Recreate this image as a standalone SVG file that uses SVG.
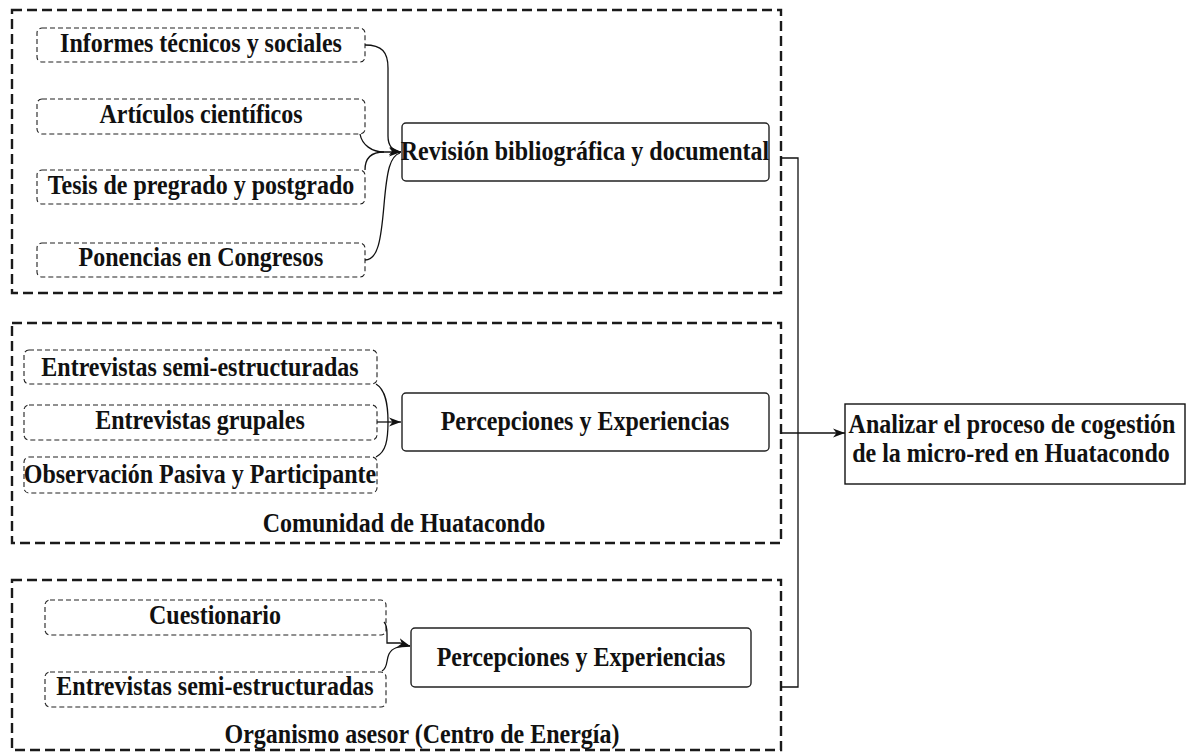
<svg xmlns="http://www.w3.org/2000/svg" width="1188" height="755" viewBox="0 0 1188 755">
  <style>
    .grp { fill: none; stroke: #1a1a1a; stroke-width: 2.4; stroke-dasharray: 10 5; }
    .src { fill: #fff; stroke: #222; stroke-width: 1.1; stroke-dasharray: 5 3; }
    .proc { fill: #fff; stroke: #222; stroke-width: 1.4; }
    .goal { fill: #fff; stroke: #111; stroke-width: 1.4; }
    .lbl { font-family: "Liberation Serif", "Times New Roman", serif; font-weight: bold; font-size: 24px; fill: #111; text-anchor: middle; }
    .wire { fill: none; stroke: #111; stroke-width: 1.3; }
  </style>
  <defs>
    <marker id="arrow" markerWidth="13" markerHeight="11" refX="12" refY="5.5" orient="auto" markerUnits="userSpaceOnUse">
      <path d="M0,1 L12,5.5 L0,10 L3.5,5.5 z" fill="#111"/>
    </marker>
  </defs>
  <rect width="1188" height="755" fill="#fff"/>

  <!-- grouping frames; labels are stretched vertically (matrix) to the tall lettering -->
  <g id="frame-literature">
    <rect class="grp" x="12" y="10" width="769" height="283"/>
  </g>
  <g id="frame-community">
    <rect class="grp" x="12" y="323" width="769" height="220"/>
    <text class="lbl" transform="matrix(1 0 0 1.13 404 532)">Comunidad de Huatacondo</text>
  </g>
  <g id="frame-advisor">
    <rect class="grp" x="12" y="580" width="769" height="170"/>
    <text class="lbl" transform="matrix(1 0 0 1.13 422 743)">Organismo asesor (Centro de Energía)</text>
  </g>

  <!-- sources: literature -->
  <g id="src-informes">
    <rect class="src" x="37" y="28" width="328" height="34" rx="5"/>
    <text class="lbl" transform="matrix(1 0 0 1.13 201 52)">Informes técnicos y sociales</text>
  </g>
  <g id="src-articulos">
    <rect class="src" x="37" y="99" width="328" height="35" rx="5"/>
    <text class="lbl" transform="matrix(1 0 0 1.13 201 123)">Artículos científicos</text>
  </g>
  <g id="src-tesis">
    <rect class="src" x="37" y="170" width="328" height="34" rx="5"/>
    <text class="lbl" transform="matrix(1 0 0 1.13 201 194)">Tesis de pregrado y postgrado</text>
  </g>
  <g id="src-ponencias">
    <rect class="src" x="37" y="243" width="328" height="34" rx="5"/>
    <text class="lbl" transform="matrix(1 0 0 1.13 201 266)">Ponencias en Congresos</text>
  </g>

  <!-- sources: community -->
  <g id="src-entrevistas-semi-1">
    <rect class="src" x="24" y="350" width="353" height="34" rx="5"/>
    <text class="lbl" transform="matrix(1 0 0 1.13 200 376)">Entrevistas semi-estructuradas</text>
  </g>
  <g id="src-entrevistas-grupales">
    <rect class="src" x="24" y="405" width="353" height="35" rx="5"/>
    <text class="lbl" transform="matrix(1 0 0 1.13 200 429)">Entrevistas grupales</text>
  </g>
  <g id="src-observacion">
    <rect class="src" x="24" y="457" width="353" height="36" rx="5"/>
    <text class="lbl" transform="matrix(1 0 0 1.13 200 483)">Observación Pasiva y Participante</text>
  </g>

  <!-- sources: advisor -->
  <g id="src-cuestionario">
    <rect class="src" x="45" y="600" width="341" height="35" rx="5"/>
    <text class="lbl" transform="matrix(1 0 0 1.13 215 624)">Cuestionario</text>
  </g>
  <g id="src-entrevistas-semi-2">
    <rect class="src" x="45" y="672" width="341" height="35" rx="5"/>
    <text class="lbl" transform="matrix(1 0 0 1.13 215 695)">Entrevistas semi-estructuradas</text>
  </g>

  <!-- process boxes -->
  <g id="proc-revision">
    <rect class="proc" x="402" y="123" width="367" height="58" rx="4"/>
    <text class="lbl" transform="matrix(1 0 0 1.13 585 160)">Revisión bibliográfica y documental</text>
  </g>
  <g id="proc-percepciones-1">
    <rect class="proc" x="402" y="393" width="367" height="58" rx="4"/>
    <text class="lbl" transform="matrix(1 0 0 1.13 585 430)">Percepciones y Experiencias</text>
  </g>
  <g id="proc-percepciones-2">
    <rect class="proc" x="411" y="628" width="340" height="59" rx="4"/>
    <text class="lbl" transform="matrix(1 0 0 1.13 581 666)">Percepciones y Experiencias</text>
  </g>

  <!-- goal -->
  <g id="goal">
    <rect class="goal" x="845" y="404" width="340" height="80"/>
    <text class="lbl" transform="matrix(1 0 0 1.13 1012 433)">Analizar el proceso de cogestión</text>
    <text class="lbl" transform="matrix(1 0 0 1.13 1011 462)">de la micro-red en Huatacondo</text>
  </g>

  <!-- connectors -->
  <g id="connectors">
    <!-- literature into review -->
    <path class="wire" d="M365,45 C382,45 388,52 388,68 L388,136 C388,146 392,151 401,152" marker-end="url(#arrow)"/>
    <path class="wire" d="M360,134 C362,145 372,152 384,152 L401,152" marker-end="url(#arrow)"/>
    <path class="wire" d="M365,170 C365,160 370,152 384,152"/>
    <path class="wire" d="M365,260 C378,260 381,240 384,205 C387,170 390,156 400,153"/>
    <!-- community into perceptions -->
    <path class="wire" d="M376,384 C386,390 388,405 388,422 C388,440 386,452 376,457"/>
    <path class="wire" d="M377,422 L401,422" marker-end="url(#arrow)"/>
    <!-- advisor into perceptions -->
    <path class="wire" d="M384,622 C386,624 387,628 387,634 L387,643 L400,643 L410,646" marker-end="url(#arrow)"/>
    <path class="wire" d="M382,671 C388,668 386,660 389,654 C392,648 398,646 410,646"/>
    <!-- frames into goal -->
    <path class="wire" d="M781,158 L798,158 L798,687 L781,687"/>
    <path class="wire" d="M781,433 L845,433" marker-end="url(#arrow)"/>
  </g>
</svg>
